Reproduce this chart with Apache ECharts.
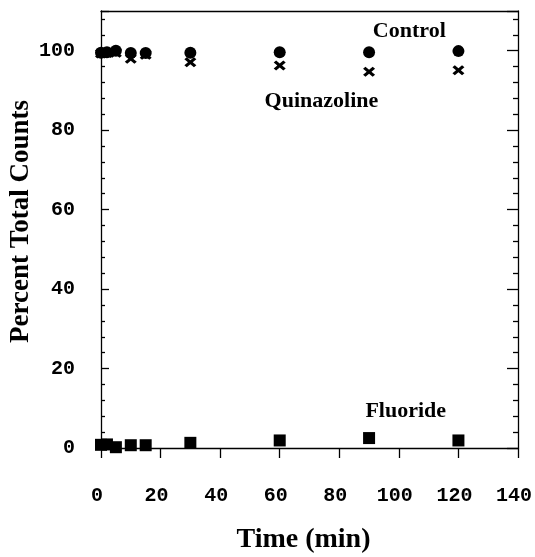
<!DOCTYPE html>
<html>
<head>
<meta charset="utf-8">
<script src="https://cdn.jsdelivr.net/npm/echarts@6/dist/echarts.min.js"></script>
<style>
html,body{margin:0;padding:0;background:#fff;}
#c{width:535px;height:557px;}
</style>
</head>
<body>
<div id="c"></div>
<script>
const times = [0, 2, 5, 10, 15, 30, 60, 90, 120];
const control = [99.5, 99.6, 100.0, 99.4, 99.4, 99.5, 99.6, 99.6, 99.9];
const quinazoline = [99.3, 99.4, 99.5, 98.0, 99.0, 97.1, 96.3, 94.7, 95.1];
const fluoride = [0.8, 0.9, 0.2, 0.7, 0.7, 1.3, 1.9, 2.5, 1.9];
const xTicks = [0, 20, 40, 60, 80, 100, 120, 140];
const yTicks = [0, 20, 40, 60, 80, 100];
const labels = [
  {text: 'Control', x: 103.5, y: 105.0, series: 'Control'},
  {text: 'Quinazoline', x: 74, y: 87.3, series: 'Quinazoline'},
  {text: 'Fluoride', x: 102.3, y: 9.2, series: 'Fluoride'}
];

const pair = arr => times.map((t, i) => [t, arr[i]]);
const serifBold = {fontFamily: 'Liberation Serif', fontWeight: 'bold', color: '#000'};
const monoBold = {fontFamily: 'Liberation Mono', fontWeight: 'bold', color: '#000', fontSize: 20};
const xShape = 'path://M0,2 L2,0 L5,3 L8,0 L10,2 L7,5 L10,8 L8,10 L5,7 L2,10 L0,8 L3,5 Z';

function mark(name) {
  const l = labels.find(d => d.series === name);
  return {
    symbol: 'circle', symbolSize: 1, silent: true,
    itemStyle: {color: 'rgba(0,0,0,0)'},
    label: {show: true, position: 'inside', formatter: l.text, fontSize: 22, ...serifBold},
    data: [{coord: [l.x, l.y]}]
  };
}

const chart = echarts.init(document.getElementById('c'), null, {renderer: 'canvas'});
chart.setOption({
  animation: false,
  backgroundColor: '#fff',
  grid: {left: 101, right: 17, top: 11, bottom: 109, containLabel: false, outerBoundsMode: 'none'},
  xAxis: [{
    type: 'value', min: 0, max: 140, interval: 20,
    name: 'Time (min)', nameLocation: 'middle', nameGap: 78, nameMoveOverlap: false,
    nameTextStyle: {fontSize: 28, ...serifBold, padding: [0, 12, 0, 0]},
    axisLine: {show: true, onZero: false, lineStyle: {color: '#000', width: 1.3}},
    axisTick: {show: true, inside: false, length: 10, lineStyle: {color: '#000', width: 1.3}},
    minorTick: {show: false},
    splitLine: {show: false},
    axisLabel: {margin: 38, ...monoBold, padding: [0, 8, 0, 0],
      formatter: v => xTicks.includes(v) ? String(v) : ''}
  }, {
    type: 'value', min: 0, max: 140, position: 'top',
    axisLine: {show: true, onZero: false, lineStyle: {color: '#000', width: 1.3}},
    axisTick: {show: false}, axisLabel: {show: false}, splitLine: {show: false}
  }],
  yAxis: [{
    type: 'value', min: 0, max: 110, interval: 20,
    name: 'Percent Total Counts', nameLocation: 'middle', nameGap: 66, nameRotate: 90,
    nameMoveOverlap: false,
    nameTextStyle: {fontSize: 27, ...serifBold, padding: [0, 0, 0, 16]},
    axisLine: {show: true, onZero: false, lineStyle: {color: '#000', width: 1.3}},
    axisTick: {show: true, inside: true, length: 8, lineStyle: {color: '#000', width: 1.3}},
    minorTick: {show: true, splitNumber: 5, length: 4, lineStyle: {color: '#000', width: 1.3}},
    splitLine: {show: false},
    axisLabel: {margin: 26, ...monoBold, padding: [8, 0, 0, 0],
      formatter: v => yTicks.includes(v) ? String(v) : ''}
  }, {
    type: 'value', min: 0, max: 110, interval: 20, position: 'right',
    axisLine: {show: true, onZero: false, lineStyle: {color: '#000', width: 1.3}},
    axisTick: {show: true, inside: true, length: 11, lineStyle: {color: '#000', width: 1.3}},
    minorTick: {show: true, splitNumber: 5, length: 5, lineStyle: {color: '#000', width: 1.3}},
    axisLabel: {show: false}, splitLine: {show: false}
  }],
  series: [{
    name: 'Quinazoline', type: 'scatter', data: pair(quinazoline),
    symbol: xShape, symbolSize: [12, 10], itemStyle: {color: '#000', opacity: 1},
    markPoint: mark('Quinazoline')
  }, {
    name: 'Control', type: 'scatter', data: pair(control),
    symbol: 'circle', symbolSize: 12, itemStyle: {color: '#000', opacity: 1},
    markPoint: mark('Control')
  }, {
    name: 'Fluoride', type: 'scatter', data: pair(fluoride),
    symbol: 'rect', symbolSize: 12, itemStyle: {color: '#000', opacity: 1},
    markPoint: mark('Fluoride')
  }]
});
</script>
</body>
</html>
